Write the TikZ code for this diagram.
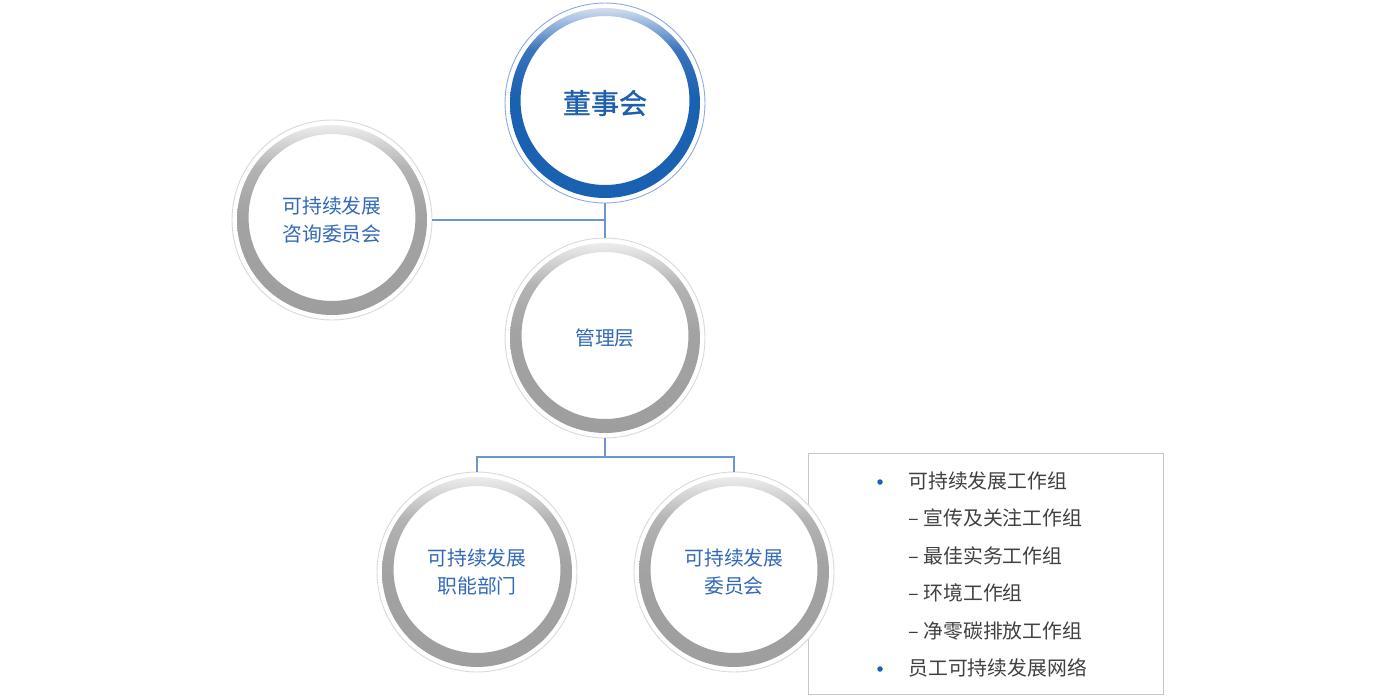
\documentclass[tikz,border=0pt]{standalone}
\usepackage{fontspec}
\setmainfont{Liberation Sans}
\newfontfamily\cjk{Noto Sans CJK SC}
\newfontfamily\cjkb[FakeBold=1.2]{Noto Sans CJK SC}
\definecolor{lineblue}{HTML}{6F95D0}
\definecolor{txtblue}{HTML}{3269B8}
\definecolor{boardblue}{HTML}{1E5FAE}
\definecolor{ringblue}{HTML}{1A61B2}
\definecolor{ringblueM}{HTML}{3A74BD}
\definecolor{ringblueL}{HTML}{D2DEF0}
\definecolor{listgray}{HTML}{404040}
\definecolor{ringgray}{HTML}{9E9E9E}
\definecolor{ringgrayM}{HTML}{B4B4B4}
\definecolor{ringgrayL}{HTML}{ECECEC}
\pgfdeclareverticalshading{grayring}{100bp}{color(0bp)=(ringgray); color(25bp)=(ringgray); color(52bp)=(ringgray!95!white); color(64bp)=(ringgrayM); color(75bp)=(ringgrayL); color(100bp)=(ringgrayL)}
\pgfdeclareverticalshading{bluering}{100bp}{color(0bp)=(ringblue); color(25bp)=(ringblue); color(52bp)=(ringblue); color(64bp)=(ringblueM); color(75bp)=(ringblueL); color(100bp)=(ringblueL)}
\begin{document}
\begin{tikzpicture}[x=0.02cm,y=-0.02cm,
  orgcircle/.style={circle,minimum size=4cm,inner sep=0pt,draw=gray!30,fill=white,line width=0.5pt,
    align=center,text=txtblue,font=\cjk\fontsize{11.3pt}{15.5pt}\selectfont},
  boardcircle/.style={orgcircle,draw=lineblue!80,text=boardblue,font=\cjkb\fontsize{16pt}{20pt}\selectfont},
  conn/.style={draw=lineblue,line width=0.6pt},
  listtxt/.style={anchor=west,inner sep=0pt,text=listgray,font=\cjk\fontsize{11.3pt}{14pt}\selectfont}]
\useasboundingbox (0,0) rectangle (1400,700);
% list box (behind circles)
\node[draw=gray!45,line width=0.5pt,minimum width=7.1cm,minimum height=4.82cm,anchor=north west,inner sep=0pt] (box) at (808,453) {};
% nodes
\node[boardcircle] (board) at (605,103) {董事会};
\node[orgcircle] (adv) at (332,220) {可持续发展\\咨询委员会};
\node[orgcircle] (mgmt) at (605,338) {管理层};
\node[orgcircle] (func) at (477,572) {可持续发展\\职能部门};
\node[orgcircle] (comm) at (734,572) {可持续发展\\委员会};
% rings
\foreach \n in {adv,mgmt,func,comm}{
  \shade[even odd rule,shading=grayring]
    (\n.center) circle[radius=1.9cm] ([yshift=0.05cm]\n.center) circle[radius=1.67cm];
}
\shade[even odd rule,shading=bluering]
    (board.center) circle[radius=1.9cm] ([yshift=0.05cm]board.center) circle[radius=1.69cm];
% connectors
\coordinate (advj) at (605,220);
\coordinate (j) at (605,457);
\draw[conn] (board.south) -- (mgmt.north);
\draw[conn] (adv.east) -- (advj);
\draw[conn] (mgmt.south) -- (j);
\draw[conn] (func.north) |- (j) -| (comm.north);
% list
\fill[ringblue] (880,482) circle[radius=0.055cm] coordinate (b1);
\fill[ringblue] (880,669) circle[radius=0.055cm] coordinate (b2);
\node[listtxt] (l1) at (908,481) {可持续发展工作组};
\node[listtxt] (l2) at (908,518) {– 宣传及关注工作组};
\node[listtxt] (l3) at (908,556) {– 最佳实务工作组};
\node[listtxt] (l4) at (908,593) {– 环境工作组};
\node[listtxt] (l5) at (908,631) {– 净零碳排放工作组};
\node[listtxt] (l6) at (908,668) {员工可持续发展网络};
\end{tikzpicture}
\end{document}
